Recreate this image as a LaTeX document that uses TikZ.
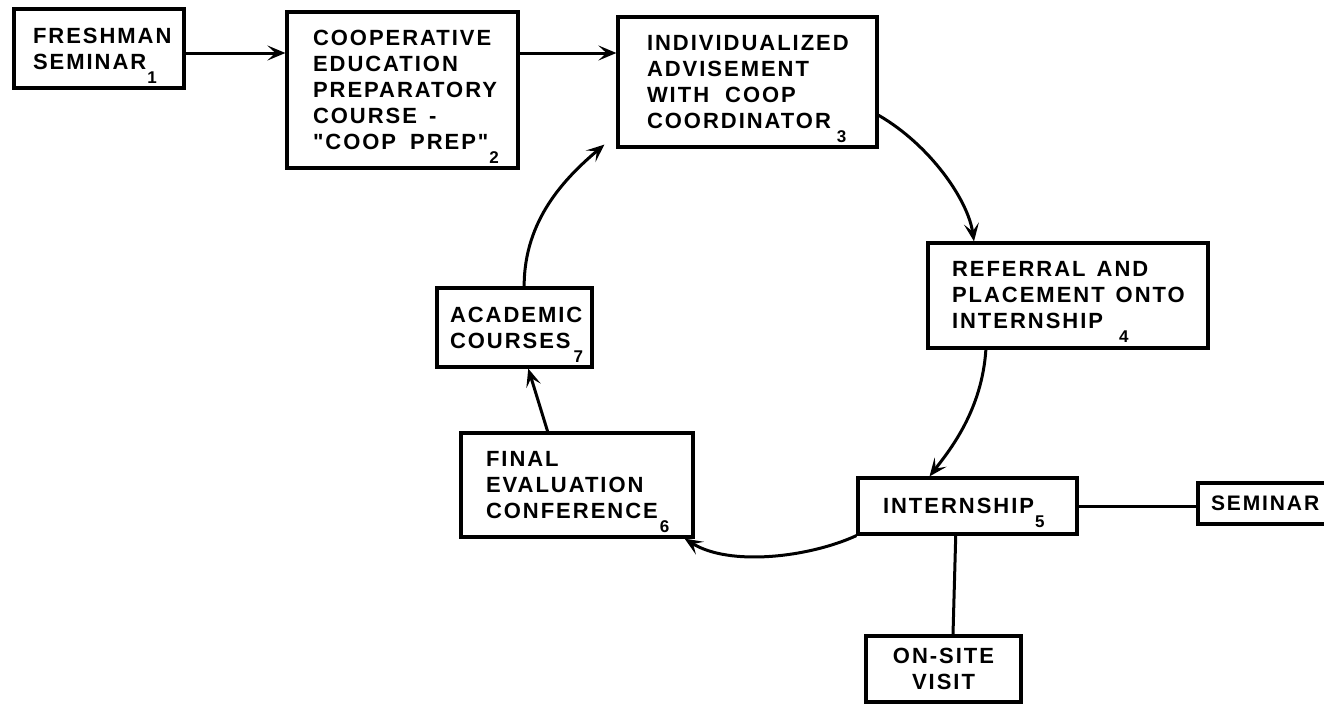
\documentclass[tikz,border=0pt]{standalone}
\usepackage{fontspec}
\usetikzlibrary{arrows.meta,calc}
\newfontfamily\lab{Liberation Sans}[LetterSpace=9]
\newcommand{\nsub}[1]{\raisebox{-14pt}[0pt][0pt]{\fontsize{17}{17}\selectfont #1}}
\newcommand{\ws}[1]{\hspace{#1pt}}
\newcommand{\boxfont}{\lab\bfseries\fontsize{22}{26}\selectfont\hyphenpenalty 10000\relax}
\tikzset{
  box/.style={draw, line width=3.2pt, rectangle, inner ysep=0pt, align=left, font=\boxfont},
  arr/.style={line width=3pt, -{Stealth[length=18pt,width=15pt,inset=8pt]}},
  ln/.style={line width=3pt}
}
\begin{document}
\begin{tikzpicture}[x=1pt,y=-1pt]
\useasboundingbox (0,0) rectangle (1324,704);
\fill[white] (0,0) rectangle (1324,704);
\clip (0,0) rectangle (1324,704);

\node[box, minimum width=170pt, minimum height=79pt, inner xsep=19pt, text width=132pt] (b1) at (99,48.5)
  {FRESHMAN\\\mbox{SEMINAR\hspace{1pt}\nsub{1}}};
\node[box, minimum width=231pt, minimum height=156pt, inner xsep=26pt, text width=179pt] (b2) at (402.5,90)
  {COOPERATIVE\\EDUCATION\\PREPARATORY\\\mbox{COURSE\ws{12}-}\\\mbox{"COOP\ws{14}PREP"\hspace{1pt}\nsub{2}}};
\node[box, minimum width=259pt, minimum height=130pt, inner xsep=29pt, text width=201pt] (b3) at (747.5,82)
  {INDIVIDUALIZED\\ADVISEMENT\\\mbox{WITH\ws{16}COOP}\\\mbox{COORDINATOR\hspace{6pt}\nsub{3}}};
\node[box, minimum width=280pt, minimum height=105pt, inner xsep=24pt, text width=232pt] (b4) at (1068,295.5)
  {\mbox{REFERRAL\ws{11}AND}\\\mbox{PLACEMENT\ws{11}ONTO}\\\mbox{INTERNSHIP\hspace{16pt}\nsub{4}}};
\node[box, minimum width=219pt, minimum height=56pt, inner xsep=25pt, text width=169pt] (b5) at (967.5,506)
  {\mbox{INTERNSHIP\hspace{1pt}\nsub{5}}};
\node[box, minimum width=232pt, minimum height=104pt, inner xsep=25pt, text width=182pt] (b6) at (577,485)
  {FINAL\\EVALUATION\\\mbox{CONFERENCE\hspace{2pt}\nsub{6}}};
\node[box, minimum width=155pt, minimum height=79pt, inner xsep=13pt, text width=129pt] (b7) at (514.5,327.5)
  {ACADEMIC\\\mbox{COURSES\hspace{3pt}\nsub{7}}};
\node[box, minimum width=147pt, minimum height=41pt, inner xsep=13pt, text width=121pt,
      font=\lab\bfseries\fontsize{21}{26}\selectfont] (sem) at (1271.5,503.5)
  {SEMINAR};
\node[box, minimum width=155pt, minimum height=66pt, inner xsep=5pt, align=center, text width=145pt] (ons) at (943.5,669)
  {ON-SITE\\VISIT};

% straight arrows along the top row
\path ([yshift=-4.5pt]b1.east) coordinate (p1);
\draw[arr] (p1) -- (p1 -| b2.west);
\draw[arr] (b2.east |- p1) -- (b3.west |- p1);

% cycle
\draw[arr] ($(b3.south east)!0.25!(b3.north east)$) .. controls (930,145) and (968,200) .. ($(b4.north west)!0.168!(b4.north east)$);
\draw[arr] ($(b4.south west)!0.21!(b4.south east)$) .. controls (982,410) and (950,450) .. ($(b5.north west)!0.329!(b5.north east)$);
\draw[arr] (b5.south west) .. controls (810,557) and (730,567) .. ([xshift=-10pt]b6.south east);
\draw[arr] ($(b6.north west)!0.375!(b6.north east)$) -- ($(b7.south west)!0.587!(b7.south east)$);
\draw[arr] ($(b7.north west)!0.561!(b7.north east)$) .. controls (524,220) and (565,178) .. ([shift={(-12pt,4pt)}]b3.south west);

% plain links
\draw[ln] (b5.east) -- (b5.east -| sem.west);
\draw[ln] ($(b5.south west)!0.447!(b5.south east)$) -- ([xshift=9.5pt]ons.north);
\end{tikzpicture}
\end{document}
